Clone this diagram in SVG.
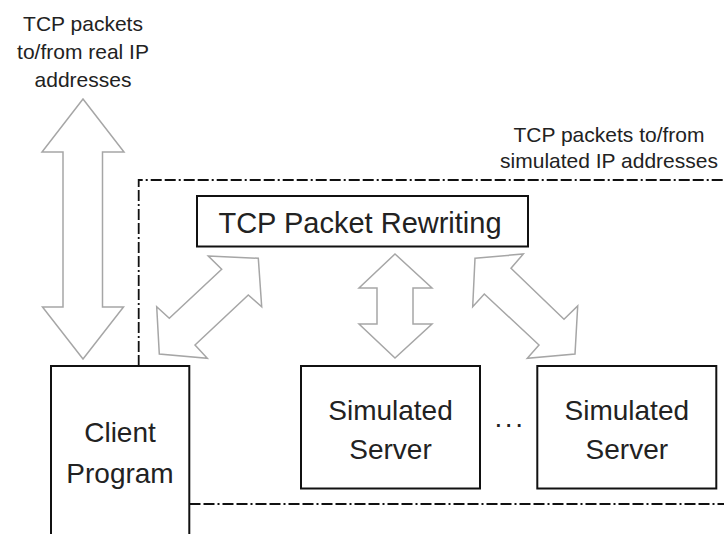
<svg xmlns="http://www.w3.org/2000/svg" width="724" height="534" viewBox="0 0 724 534">
<style>
.box{fill:#fff;stroke:#111;stroke-width:2}
.arrow{fill:#fff;stroke:#a6a6a6;stroke-width:1.5;stroke-linejoin:miter}
.bound{fill:none;stroke:#111;stroke-width:1.8;stroke-dasharray:11 3 11 3 2 3}
.t{font-family:"Liberation Sans",Arial,sans-serif;fill:#222;text-anchor:middle}
.lbl{font-size:21px}
.node{font-size:28px}
</style>
<rect width="724" height="534" fill="#fff"/>
<g id="boundary">
<path class="bound" d="M138.7,366 V180 H724"/>
<path class="bound" d="M189.5,504 H724"/>
</g>
<g id="connectors">
<polygon class="arrow" points="83,99 124,152 102.5,152 102.5,307 123.5,307 83,359 42.5,307 63,307 63,152 42,152"/>
<polygon class="arrow" points="208.3,256 258.3,258.3 261.7,306.7 248.3,295 195,345 207.3,358.3 159.3,354 156.7,306.7 169.3,318.3 221.7,269.3"/>
<polygon class="arrow" points="395,254 432,288 413,288 413,324 432,324 395,358 359,324 377,324 377,288 359,288"/>
<polygon class="arrow" points="475,258.3 523.3,254 511,268.3 564,319.3 577.7,306 575,354 527.3,358.3 539,345 484.3,294 472.7,306.7"/>
</g>
<g id="label-real">
<text class="t lbl" x="83" y="31">TCP packets</text>
<text class="t lbl" x="83" y="59">to/from real IP</text>
<text class="t lbl" x="83" y="87">addresses</text>
</g>
<g id="label-simulated">
<text class="t lbl" x="609" y="142">TCP packets to/from</text>
<text class="t lbl" x="609" y="168">simulated IP addresses</text>
</g>
<g id="rewriting">
<rect class="box" x="197" y="196" width="331" height="50.5"/>
<text class="t" x="360" y="233" font-size="29">TCP Packet Rewriting</text>
</g>
<g id="client">
<rect class="box" x="51" y="366" width="138.3" height="180"/>
<text class="t node" x="120" y="442">Client</text>
<text class="t node" x="120" y="482.5">Program</text>
</g>
<g id="server1">
<rect class="box" x="301" y="366" width="179" height="122.5"/>
<text class="t node" x="390.5" y="420">Simulated</text>
<text class="t node" x="390.5" y="459">Server</text>
</g>
<g id="ellipsis">
<text class="t node" x="510" y="427" letter-spacing="2.5">...</text>
</g>
<g id="server2">
<rect class="box" x="537.3" y="366" width="179" height="122.5"/>
<text class="t node" x="626.8" y="420">Simulated</text>
<text class="t node" x="626.8" y="459">Server</text>
</g>
</svg>
